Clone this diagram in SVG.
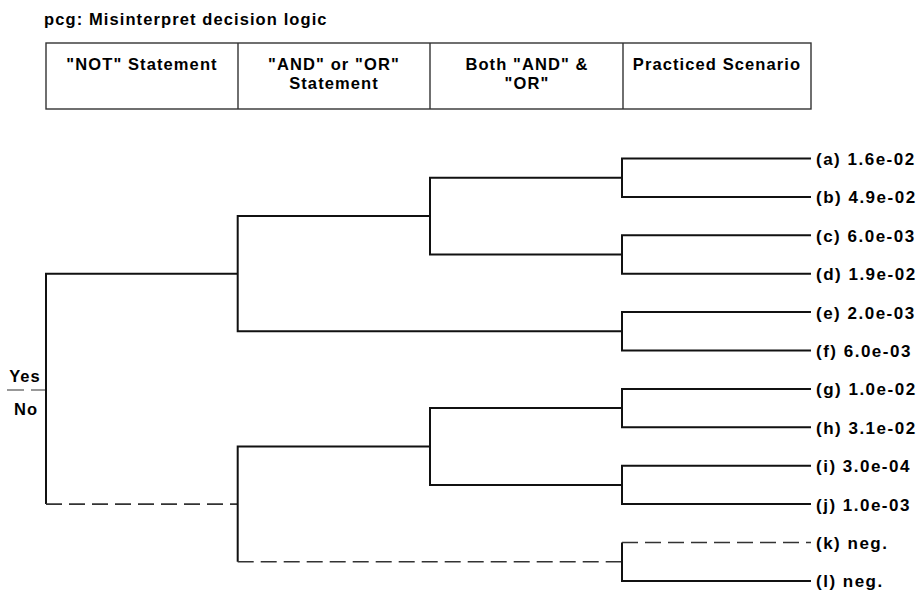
<svg xmlns="http://www.w3.org/2000/svg" width="922" height="594" viewBox="0 0 922 594">
  <style>
    text { font-family: "Liberation Sans", Arial, sans-serif; font-weight: bold; fill: #000; }
    .title { font-size: 16.5px; letter-spacing: 1.1px; }
    .hdr { font-size: 16.5px; letter-spacing: 1.1px; text-anchor: middle; }
    .leaf { font-size: 17px; letter-spacing: 1.5px; }
    .yn { font-size: 16.5px; letter-spacing: 1.1px; text-anchor: middle; }
    .box { fill: none; stroke: #333; stroke-width: 1.4; }
    .branch { fill: none; stroke: #111; stroke-width: 2; }
    .neg { fill: none; stroke: #333; stroke-width: 1.6; stroke-dasharray: 16 7; }
    .split { fill: none; stroke: #777; stroke-width: 1.6; stroke-dasharray: 17 7; }
  </style>

  <text class="title" x="44" y="25">pcg: Misinterpret decision logic</text>

  <!-- column headings -->
  <g id="header">
    <rect class="box" x="46" y="43" width="765" height="66"/>
    <line class="box" x1="238" y1="43" x2="238" y2="109"/>
    <line class="box" x1="430" y1="43" x2="430" y2="109"/>
    <line class="box" x1="623" y1="43" x2="623" y2="109"/>
    <text class="hdr" x="142" y="70">"NOT" Statement</text>
    <text class="hdr" x="334" y="70">"AND" or "OR"</text>
    <text class="hdr" x="334" y="89">Statement</text>
    <text class="hdr" x="527" y="70">Both "AND" &amp;</text>
    <text class="hdr" x="527" y="89">"OR"</text>
    <text class="hdr" x="717" y="70">Practiced Scenario</text>
  </g>

  <!-- root split -->
  <g id="root">
    <text class="yn" x="25" y="382">Yes</text>
    <line class="split" x1="7" y1="390" x2="46" y2="390"/>
    <text class="yn" x="26" y="415">No</text>
  </g>

  <!-- tree branches -->
  <g id="connectors">
    <!-- root -->
    <path class="branch" d="M237.7,273.7 H46 V504.1"/>
    <path class="neg" d="M46,504.1 H237.7"/>
    <!-- "NOT" yes: upper subtree -->
    <path class="branch" d="M430,216.1 H237.7 V331.3 H622"/>
    <!-- "NOT" no: lower subtree -->
    <path class="branch" d="M430,446.5 H237.7 V561.7"/>
    <path class="neg" d="M237.7,561.7 H622"/>
    <!-- AND/OR level -->
    <path class="branch" d="M622,177.7 H430 V254.5 H622"/>
    <path class="branch" d="M622,408.1 H430 V484.9 H622"/>
    <!-- practiced scenario level -->
    <path class="branch" d="M811,158.5 H622 V196.9 H811"/>
    <path class="branch" d="M811,235.3 H622 V273.7 H811"/>
    <path class="branch" d="M811,312.1 H622 V350.5 H811"/>
    <path class="branch" d="M811,388.9 H622 V427.3 H811"/>
    <path class="branch" d="M811,465.7 H622 V504.1 H811"/>
    <path class="branch" d="M622,542.5 V580.9 H811"/>
    <path class="neg" d="M622,542.5 H811"/>
  </g>

  <!-- outcome leaves -->
  <g id="leaf-a"><text class="leaf" x="816" y="165">(a) 1.6e-02</text></g>
  <g id="leaf-b"><text class="leaf" x="816" y="203.4">(b) 4.9e-02</text></g>
  <g id="leaf-c"><text class="leaf" x="816" y="241.8">(c) 6.0e-03</text></g>
  <g id="leaf-d"><text class="leaf" x="816" y="280.2">(d) 1.9e-02</text></g>
  <g id="leaf-e"><text class="leaf" x="816" y="318.6">(e) 2.0e-03</text></g>
  <g id="leaf-f"><text class="leaf" x="816" y="357">(f) 6.0e-03</text></g>
  <g id="leaf-g"><text class="leaf" x="816" y="395.4">(g) 1.0e-02</text></g>
  <g id="leaf-h"><text class="leaf" x="816" y="433.8">(h) 3.1e-02</text></g>
  <g id="leaf-i"><text class="leaf" x="816" y="472.2">(i) 3.0e-04</text></g>
  <g id="leaf-j"><text class="leaf" x="816" y="510.6">(j) 1.0e-03</text></g>
  <g id="leaf-k"><text class="leaf" x="816" y="549">(k) neg.</text></g>
  <g id="leaf-l"><text class="leaf" x="816" y="587.4">(l) neg.</text></g>
</svg>
